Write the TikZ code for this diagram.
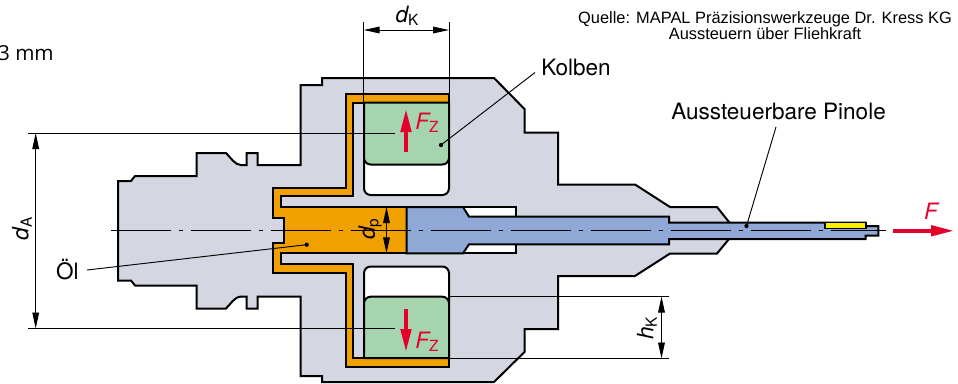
\documentclass[tikz,border=0pt]{standalone}
\usepackage{fontspec}
\setmainfont{TeX Gyre Heros}
\newfontfamily\srcfont{Liberation Sans}
\newfontfamily\cutfont{Open Sans}
\usetikzlibrary{arrows.meta}
\definecolor{bodyc}{HTML}{D4D7E1}
\definecolor{oilc}{HTML}{F0A000}
\definecolor{pistonc}{HTML}{A6D4AF}
\definecolor{pinc}{HTML}{8FA8D6}
\definecolor{yelc}{HTML}{FFEE00}
\definecolor{redc}{HTML}{E4002B}
\newcommand\symsub[2]{{\itshape #1}\raisebox{-.3ex}{\fontsize{11.5}{12}\selectfont #2}}
\tikzset{
  x=0.75pt,y=-0.75pt,
  part/.style={draw=black,line width=1.5pt,line join=miter},
  thin line/.style={draw=black,line width=0.75pt},
  dim/.style={draw=black,line width=0.7pt,{Triangle[length=12pt,width=5pt]}-{Triangle[length=12pt,width=5pt]}},
  force/.style={draw=redc,line width=3.3pt,-{Triangle[length=18pt,width=7.5pt]}},
  leader/.style={draw=black,line width=0.7pt},
  dotc/.style={circle,fill=black,inner sep=0pt,minimum size=3.2pt},
  lab/.style={font=\fontsize{16.9}{18}\selectfont,inner sep=0pt},
  sym/.style={font=\fontsize{16.9}{18}\selectfont,inner sep=0pt},
  centre/.style={draw=black,line width=0.7pt,dash pattern=on 45pt off 6pt on 3pt off 6pt}
}
\begin{document}
\begin{tikzpicture}
\useasboundingbox (0,0) rectangle (958,383);
\clip (0,0) rectangle (958,383);
% housing
\path[part,fill=bodyc] (118,181) -- (131,181) -- (135,176) -- (196.5,176) -- (196.5,153) -- (226,153)
  .. controls (231,158) and (235,165) .. (241,165) -- (246.5,165) -- (246.5,153) -- (257.5,153) -- (257.5,165)
  -- (300.5,165) -- (300.5,85) -- (322,85) -- (322,78) -- (494,78) -- (524.5,109) -- (524.5,132.5)
  -- (558,132.5) -- (558,184.5) -- (635,184.5) -- (670,207) -- (717,207) -- (729,222) -- (729,239)
  -- (717,253.5) -- (670,253.5) -- (635,276) -- (558,276) -- (558,329) -- (524.5,329) -- (524.5,352)
  -- (494,382) -- (322,382) -- (322,376) -- (300.5,376) -- (300.5,296.5) -- (257.5,296.5) -- (257.5,308.5)
  -- (246.5,308.5) -- (246.5,296.5) -- (241,296.5) .. controls (235,296.5) and (231,303.5) .. (226,308.5)
  -- (196.5,308.5) -- (196.5,285.5) -- (135,285.5) -- (131,280.5) -- (118,280.5) -- cycle;
% pockets
\path[part,fill=white,rounded corners=5pt] (364,150) rectangle (449,195);
\path[part,fill=white,rounded corners=5pt] (364,266.5) rectangle (449,310);
% slots round the pin
\path[part,fill=white] (460,207) rectangle (516,217);
\path[part,fill=white] (460,244.3) rectangle (516,253.3);
% oil
\path[part,fill=oilc] (345.7,188.3) -- (345.7,94) -- (449,94) -- (449,102.5) -- (353.3,102.5) -- (353.3,196)
  -- (281,196) -- (281,207) -- (406.7,207) -- (406.7,253.3) -- (281,253.3) -- (281,264.3) -- (353.3,264.3)
  -- (353.3,358) -- (449,358) -- (449,366.7) -- (345.7,366.7) -- (345.7,272.7) -- (273,272.7) -- (273,242.7)
  -- (284,242.7) -- (284,218.3) -- (273,218.3) -- (273,188.3) -- cycle;
% pistons
\path[part,fill=pistonc] (364,102.5) -- (449,102.5) [rounded corners=5pt] -- (449,164.5) -- (364,164.5) [sharp corners] -- (364,102.5);
\path[part,fill=pistonc] (364,358) -- (449,358) [rounded corners=5pt] -- (449,296.7) -- (364,296.7) [sharp corners] -- (364,358);
% pin
\path[part,fill=pinc] (406.7,207) -- (463,207) -- (469,216.7) -- (669,216.7) -- (669,222.5) -- (865.7,222.5)
  -- (865.7,226) -- (878.3,226) -- (878.3,235.5) -- (865.7,235.5) -- (865.7,239) -- (669,239) -- (669,244.3)
  -- (469,244.3) -- (463,253.3) -- (406.7,253.3) -- cycle;
\path[draw=black,line width=1.2pt,fill=yelc] (825,222.5) rectangle (865.7,228.3);
% centre line
\coordinate (cl) at (110.5,230.8);
\coordinate (cr) at (886,230.8);
\draw[centre] (cl) -- (cr);
% dimension dA
\coordinate (dat) at (28,133);
\coordinate (dab) at (28,328.5);
\coordinate (dati) at (395,133);
\coordinate (dabi) at (395,328.5);
\draw[thin line] (dat) -- (dati);
\draw[thin line] (dab) -- (dabi);
\coordinate (daa) at (35.7,133);
\coordinate (dac) at (35.7,328.5);
\draw[dim] (daa) -- (dac);
\node[sym,rotate=90] (dAlab) at (22,229) {\symsub{d}{A}};
% dimension dK
\coordinate (dkl) at (363.7,22);
\coordinate (dkr) at (449,22);
\coordinate (dkli) at (363.7,102.5);
\coordinate (dkri) at (449,94);
\draw[thin line] (dkl) -- (dkli);
\draw[thin line] (dkr) -- (dkri);
\coordinate (dka) at (363.7,30);
\coordinate (dkb) at (449,30);
\draw[dim] (dka) -- (dkb);
\node[sym] (dKlab) at (407,16) {\symsub{d}{K}};
% dimension dP
\coordinate (dpa) at (386.5,207);
\coordinate (dpb) at (386.5,253.3);
\draw[dim] (dpa) -- (dpb);
\node[sym,rotate=90] (dPlab) at (370,229) {\symsub{d}{p}};
% dimension hK
\coordinate (hka) at (449,296.5);
\coordinate (hkb) at (449,358.5);
\coordinate (hkc) at (669,296.5);
\coordinate (hkd) at (669,358.5);
\draw[thin line] (hka) -- (hkc);
\draw[thin line] (hkb) -- (hkd);
\coordinate (hke) at (661.5,296.5);
\coordinate (hkf) at (661.5,358.5);
\draw[dim] (hke) -- (hkf);
\node[sym,rotate=90] (hKlab) at (647,328.5) {\symsub{h}{K}};
% forces
\coordinate (fua) at (406,152);
\coordinate (fub) at (406,108);
\draw[force] (fua) -- (fub);
\node[sym,text=redc] (Fza) at (427,123) {\symsub{F}{Z}};
\coordinate (fla) at (406,309);
\coordinate (flb) at (406,353);
\draw[force] (fla) -- (flb);
\node[sym,text=redc] (Fzb) at (427,342) {\symsub{F}{Z}};
\coordinate (fa) at (893,230.8);
\coordinate (fb) at (955,230.8);
\draw[force] (fa) -- (fb);
\node[sym,text=redc] (Flab) at (931,211) {\itshape F};
% leaders
\node[lab,anchor=base west] (kolben) at (541,75) {Kolben};
\node[dotc] (kd) at (441,145) {};
\coordinate (ke) at (535,72.5);
\draw[leader] (ke) -- (kd.center);
\node[lab,anchor=base west] (pinole) at (671,119) {Aussteuerbare Pinole};
\node[dotc] (pd) at (746.5,226) {};
\coordinate (pe) at (776,127);
\draw[leader] (pe) -- (pd.center);
\node[lab,anchor=base east] (oel) at (79,279) {Öl};
\node[dotc] (od) at (306.7,244.7) {};
\coordinate (oe) at (87,270);
\draw[leader] (oe) -- (od.center);
% texts
\node[lab,anchor=base east,font=\cutfont\fontsize{15.5}{18}\selectfont] (mm) at (54,60) {3 mm};
\node[inner sep=0pt,align=center,font=\srcfont\fontsize{12.3}{12}\selectfont,anchor=north] (src) at (765,11)
  {Quelle: MAPAL Präzisionswerkzeuge Dr. Kress KG\\Aussteuern über Fliehkraft};
\end{tikzpicture}
\end{document}
